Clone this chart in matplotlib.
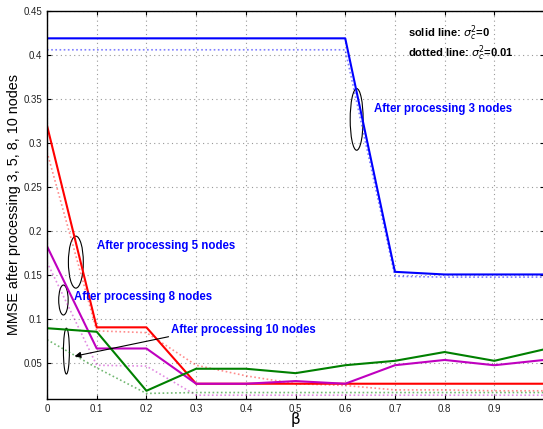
import matplotlib
matplotlib.use('Agg')
import matplotlib.pyplot as plt
from matplotlib.patches import Ellipse

plt.rcParams['font.family'] = ['Liberation Sans', 'DejaVu Sans']
plt.rcParams['mathtext.fontset'] = 'dejavusans'

beta = [0.0, 0.1, 0.2, 0.3, 0.4, 0.5, 0.6, 0.7, 0.8, 0.9, 1.0]

# solid lines: sigma_c^2 = 0
mmse3 = [0.419, 0.419, 0.419, 0.419, 0.419, 0.419, 0.419, 0.154, 0.151, 0.151, 0.151]
mmse5 = [0.320, 0.091, 0.091, 0.027, 0.027, 0.027, 0.027, 0.027, 0.027, 0.027, 0.027]
mmse8 = [0.183, 0.067, 0.067, 0.027, 0.027, 0.030, 0.027, 0.048, 0.054, 0.048, 0.054]
mmse10 = [0.090, 0.086, 0.019, 0.044, 0.044, 0.039, 0.048, 0.053, 0.063, 0.053, 0.066]

# dotted lines: sigma_c^2 = 0.01
mmse3_n = [0.406, 0.406, 0.406, 0.406, 0.406, 0.406, 0.406, 0.149, 0.148, 0.148, 0.148]
mmse5_n = [0.290, 0.087, 0.085, 0.048, 0.036, 0.027, 0.025, 0.020, 0.020, 0.019, 0.019]
mmse8_n = [0.165, 0.048, 0.047, 0.014, 0.014, 0.014, 0.014, 0.014, 0.014, 0.014, 0.014]
mmse10_n = [0.077, 0.045, 0.016, 0.017, 0.017, 0.017, 0.017, 0.017, 0.017, 0.017, 0.017]

fig = plt.figure(figsize=(5.43, 4.29), dpi=100)
ax = fig.add_axes([0.0866, 0.0706, 0.9153, 0.9037])

blue, red, mag, green = (0, 0, 1), (1, 0, 0), (0.75, 0, 0.75), (0, 0.5, 0)

dot = (0, (1, 1.5))
ax.plot(beta, mmse3_n, linestyle=dot, color=blue, lw=1.2, alpha=0.5)
ax.plot(beta, mmse5_n, linestyle=dot, color=red, lw=1.2, alpha=0.45)
ax.plot(beta, mmse8_n, linestyle=dot, color=mag, lw=1.2, alpha=0.45)
ax.plot(beta, mmse10_n, linestyle=dot, color=green, lw=1.2, alpha=0.55)

ax.plot(beta, mmse3, '-', color=blue, lw=1.5)
ax.plot(beta, mmse5, '-', color=red, lw=1.5)
ax.plot(beta, mmse8, '-', color=mag, lw=1.5)
ax.plot(beta, mmse10, '-', color=green, lw=1.5)

ax.set_xlim(0, 1)
ax.set_ylim(0.01, 0.45)
ax.set_xticks([0, 0.1, 0.2, 0.3, 0.4, 0.5, 0.6, 0.7, 0.8, 0.9])
ax.set_xticklabels(['0', '0.1', '0.2', '0.3', '0.4', '0.5', '0.6', '0.7', '0.8', '0.9'])
ax.set_yticks([0.05, 0.1, 0.15, 0.2, 0.25, 0.3, 0.35, 0.4, 0.45])
ax.set_yticklabels(['0.05', '0.1', '0.15', '0.2', '0.25', '0.3', '0.35', '0.4', '0.45'])
ax.tick_params(direction='in', top=True, right=True, labelsize=7, length=3,
               labelcolor='#222222')
ax.grid(True, linestyle=(0, (1, 3)), color='#999999', lw=0.8)
for s in ax.spines.values():
    s.set_linewidth(1.0)

ax.set_xlabel('\u03b2', fontsize=11, labelpad=-1, family=['DejaVu Sans'])
ax.set_ylabel('MMSE after processing 3, 5, 8, 10 nodes', fontsize=10.4, labelpad=2)

# annotations
tkw = dict(color='blue', fontsize=8.3, fontweight='bold', va='center')
ax.text(0.658, 0.339, 'After processing 3 nodes', **tkw)
ax.text(0.101, 0.183, 'After processing 5 nodes', **tkw)
ax.text(0.054, 0.125, 'After processing 8 nodes', **tkw)
ax.text(0.250, 0.088, 'After processing 10 nodes', **tkw)

ekw = dict(fill=False, edgecolor='black', lw=0.8)
ax.add_patch(Ellipse((0.623, 0.327), 0.026, 0.070, **ekw))
ax.add_patch(Ellipse((0.058, 0.165), 0.030, 0.059, **ekw))
ax.add_patch(Ellipse((0.033, 0.122), 0.019, 0.034, **ekw))
ax.add_patch(Ellipse((0.039, 0.064), 0.012, 0.052, **ekw))

ax.annotate('', xy=(0.050, 0.0576), xytext=(0.25, 0.081),
            arrowprops=dict(arrowstyle='-|>', color='black', lw=0.8,
                            mutation_scale=9))

lkw = dict(color='black', fontsize=8, fontweight='bold', va='center')
ax.text(0.726, 0.4245, 'solid line: $\\sigma_c^2$=0', **lkw)
ax.text(0.726, 0.4025, 'dotted line: $\\sigma_c^2$=0.01', **lkw)

fig.savefig('out.png', dpi=100)
